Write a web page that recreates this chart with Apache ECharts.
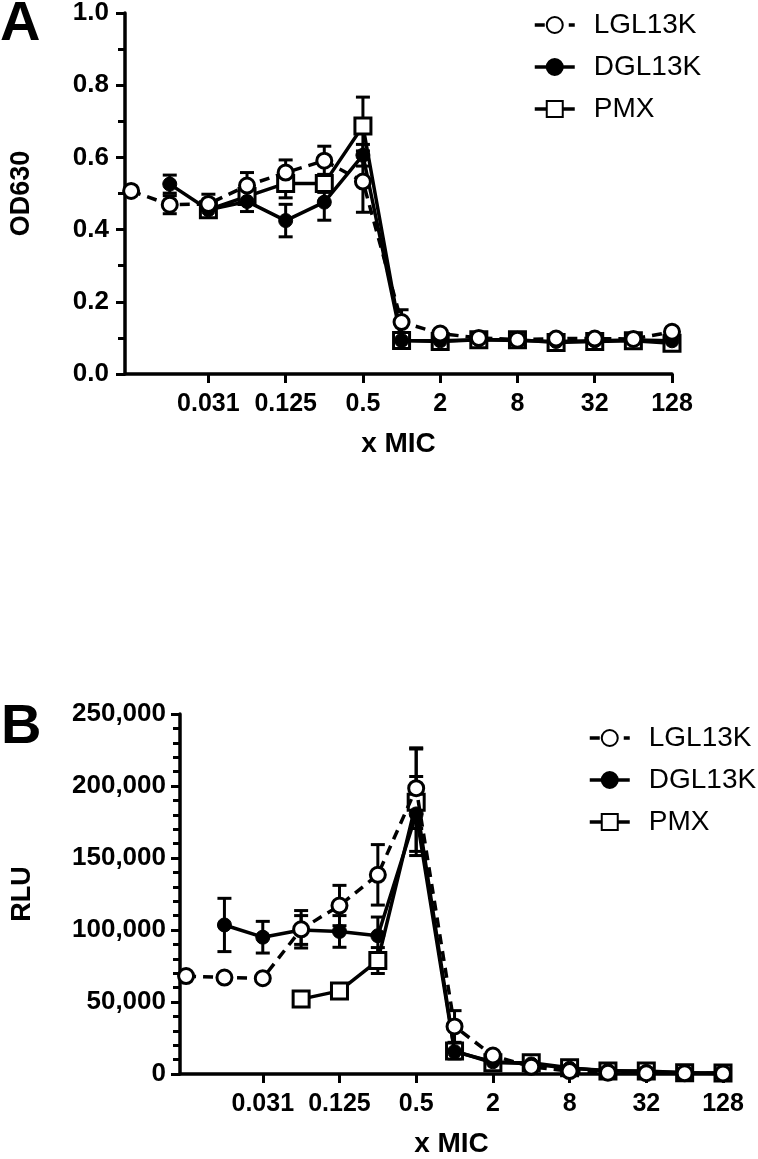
<!DOCTYPE html>
<html>
<head>
<meta charset="utf-8">
<script src="https://cdn.jsdelivr.net/npm/echarts@6/dist/echarts.min.js"></script>
<style>
html,body{margin:0;padding:0;background:#fff;}
#chart{width:758px;height:1159px;}
</style>
</head>
<body>
<div id="chart"></div>
<script>
// ---- data ----
const micValues = [0.0078125, 0.015625, 0.03125, 0.0625, 0.125, 0.25, 0.5, 1, 2, 4, 8, 16, 32, 64, 128];
const tickMic = [0.03125, 0.125, 0.5, 2, 8, 32, 128];
const tickLabels = ['0.031', '0.125', '0.5', '2', '8', '32', '128'];
const seriesNames = ['LGL13K', 'DGL13K', 'PMX'];

// Panel A : OD630
const odLGL    = [0.507, 0.469, 0.471, 0.522, 0.558, 0.591, 0.533, 0.144, 0.112, 0.100, 0.095, 0.098, 0.098, 0.097, 0.117];
const odLGLErr = [0, 0.025, 0.027, 0.036, 0.035, 0.040, 0.085, 0.034, 0.008, 0.006, 0.006, 0.006, 0.006, 0.006, 0.010];
const odDGL    = [null, 0.526, 0.455, 0.478, 0.425, 0.476, 0.606, 0.093, 0.092, 0.095, 0.093, 0.090, 0.092, 0.094, 0.092];
const odDGLErr = [null, 0.025, 0.020, 0.028, 0.045, 0.050, 0.030, 0.008, 0.006, 0.005, 0.005, 0.005, 0.005, 0.005, 0.005];
const odPMX    = [null, null, 0.455, 0.492, 0.528, 0.528, 0.687, 0.093, 0.090, 0.095, 0.095, 0.087, 0.090, 0.092, 0.085];
const odPMXErr = [null, null, 0.020, 0.020, 0.040, 0.025, 0.080, 0.010, 0.006, 0.005, 0.005, 0.005, 0.005, 0.005, 0.005];

// Panel B : RLU
const rluLGL    = [68000, 67000, 66500, 100500, 117000, 138300, 198500, 33000, 12800, 5000, 2000, 900, 600, 500, 400];
const rluLGLErr = [0, 0, 0, 13000, 14000, 21000, 28000, 11000, 1500, 800, 500, 300, 200, 200, 200];
const rluDGL    = [null, 103500, 95000, 100000, 99000, 96000, 180600, 15500, 8500, 7000, 4000, 2400, 1800, 900, 700];
const rluDGLErr = [null, 18500, 11000, 10000, 11000, 13000, 26000, 5000, 1500, 800, 500, 300, 200, 200, 200];
const rluPMX    = [null, null, null, 52000, 57700, 78800, 188700, 16000, 7800, 7800, 4300, 2000, 2000, 900, 700];
const rluPMXErr = [null, null, null, 0, 0, 9000, 37000, 3000, 1000, 800, 500, 300, 200, 200, 200];

// ---- helpers ----
const FONT = 'Liberation Sans, Arial, sans-serif';
const lx = micValues.map(v => Math.log2(v));
const tickPos = tickMic.map(v => Math.log2(v));
const xMin = Math.log2(0.007);

function pts(vals) {
  const out = [];
  vals.forEach((v, i) => { if (v !== null) out.push([lx[i], v]); });
  return out;
}
function errPts(vals, errs) {
  const out = [];
  vals.forEach((v, i) => {
    if (v !== null && errs[i]) out.push([lx[i], v - errs[i], v + errs[i]]);
  });
  return out;
}
function renderErr(params, api) {
  const x = api.value(0);
  const p1 = api.coord([x, api.value(1)]);
  const p2 = api.coord([x, api.value(2)]);
  const hw = 7;
  const st = { stroke: '#000', lineWidth: 3 };
  return {
    type: 'group',
    children: [
      { type: 'line', shape: { x1: p1[0], y1: p1[1], x2: p2[0], y2: p2[1] }, style: st },
      { type: 'line', shape: { x1: p1[0] - hw, y1: p1[1], x2: p1[0] + hw, y2: p1[1] }, style: st },
      { type: 'line', shape: { x1: p2[0] - hw, y1: p2[1], x2: p2[0] + hw, y2: p2[1] }, style: st }
    ]
  };
}
function tickLabelFor(v) {
  for (let i = 0; i < tickPos.length; i++) if (Math.abs(tickPos[i] - v) < 1e-6) return tickLabels[i];
  return '';
}
function xAxisDef(gi) {
  return {
    type: 'value', gridIndex: gi, min: xMin, max: 7,
    name: 'x MIC', nameLocation: 'middle', nameGap: 56,
    nameTextStyle: { fontFamily: FONT, fontWeight: 'bold', fontSize: 28, color: '#000' },
    axisLine: { show: true, onZero: false, lineStyle: { color: '#000', width: 3.5 } },
    axisTick: { show: true, customValues: tickPos, length: 9, lineStyle: { color: '#000', width: 3 } },
    axisLabel: { customValues: tickPos, formatter: tickLabelFor, margin: 18,
      fontFamily: FONT, fontWeight: 'bold', fontSize: 25, color: '#000' },
    splitLine: { show: false }
  };
}
function yAxisCommon() {
  return {
    axisLine: { show: true, onZero: false, lineStyle: { color: '#000', width: 3.5 } },
    axisTick: { show: true, length: 9, lineStyle: { color: '#000', width: 3 } },
    splitLine: { show: false }
  };
}
const lineStyles = {
  LGL13K: { type: [10, 7], width: 3.5, color: '#000' },
  DGL13K: { type: 'solid', width: 3.5, color: '#000' },
  PMX: { type: 'solid', width: 3.5, color: '#000' }
};
const symbolDefs = {
  LGL13K: { symbol: 'circle', symbolSize: 15, itemStyle: { color: '#fff', borderColor: '#000', borderWidth: 3 } },
  DGL13K: { symbol: 'circle', symbolSize: 14, itemStyle: { color: '#000', borderColor: '#000', borderWidth: 1 } },
  PMX: { symbol: 'rect', symbolSize: 16, itemStyle: { color: '#fff', borderColor: '#000', borderWidth: 3 } }
};
function lineSeries(name, vals, gi, z) {
  return Object.assign({
    type: 'line', name: name, xAxisIndex: gi, yAxisIndex: gi,
    data: pts(vals), lineStyle: lineStyles[name], z: z, animation: false,
    showAllSymbol: true, color: '#000'
  }, symbolDefs[name]);
}
function errSeries(vals, errs, gi) {
  return {
    type: 'custom', xAxisIndex: gi, yAxisIndex: gi,
    data: errPts(vals, errs), renderItem: renderErr, z: 1, animation: false,
    encode: { x: 0, y: [1, 2] }
  };
}
function legendDef(left, top) {
  return {
    orient: 'vertical', left: left, top: top, itemWidth: 40, itemHeight: 20, itemGap: 12,
    data: seriesNames, selectedMode: false,
    lineStyle: { width: 3.5 },
    textStyle: { fontFamily: FONT, fontSize: 28, color: '#000', lineHeight: 30, padding: [0, 0, 0, 14] }
  };
}

const chart = echarts.init(document.getElementById('chart'), null, { renderer: 'canvas' });
chart.setOption({
  animation: false,
  backgroundColor: '#fff',
  graphic: [
    { type: 'text', left: 0, top: -3, style: { text: 'A', font: 'bold 56px ' + FONT, fill: '#000' } },
    { type: 'text', left: 1, top: 700, style: { text: 'B', font: 'bold 56px ' + FONT, fill: '#000' } }
  ],
  legend: [legendDef(528, 5), legendDef(583, 718)],
  grid: [
    { left: 124, top: 10, width: 548, height: 364 },
    { left: 180, top: 714, width: 543, height: 364 }
  ],
  xAxis: [xAxisDef(0), xAxisDef(1)],
  yAxis: [
    Object.assign(yAxisCommon(), {
      type: 'value', gridIndex: 0, min: 0, max: 1, interval: 0.2,
      name: 'OD630', nameLocation: 'middle', nameGap: 90,
      nameTextStyle: { fontFamily: FONT, fontWeight: 'bold', fontSize: 27, color: '#000' },
      minorTick: { show: true, splitNumber: 2, length: 7, lineStyle: { color: '#000', width: 3 } },
      axisLabel: { formatter: v => v.toFixed(1), margin: 16, fontFamily: FONT, fontWeight: 'bold', fontSize: 26, color: '#000' }
    }),
    Object.assign(yAxisCommon(), {
      type: 'value', gridIndex: 1, min: 0, max: 250000, interval: 50000,
      name: 'RLU', nameLocation: 'middle', nameGap: 144,
      nameTextStyle: { fontFamily: FONT, fontWeight: 'bold', fontSize: 27, color: '#000' },
      minorTick: { show: true, splitNumber: 5, length: 7, lineStyle: { color: '#000', width: 3 } },
      axisLabel: { formatter: v => v.toLocaleString('en-US'), margin: 14, fontFamily: FONT, fontWeight: 'bold', fontSize: 26, color: '#000' }
    })
  ],
  series: [
    lineSeries('LGL13K', odLGL, 0, 4),
    lineSeries('DGL13K', odDGL, 0, 3),
    lineSeries('PMX', odPMX, 0, 2),
    lineSeries('LGL13K', rluLGL, 1, 4),
    lineSeries('DGL13K', rluDGL, 1, 3),
    lineSeries('PMX', rluPMX, 1, 2),
    errSeries(odPMX, odPMXErr, 0),
    errSeries(odDGL, odDGLErr, 0),
    errSeries(odLGL, odLGLErr, 0),
    errSeries(rluPMX, rluPMXErr, 1),
    errSeries(rluDGL, rluDGLErr, 1),
    errSeries(rluLGL, rluLGLErr, 1)
  ]
});
</script>
</body>
</html>
